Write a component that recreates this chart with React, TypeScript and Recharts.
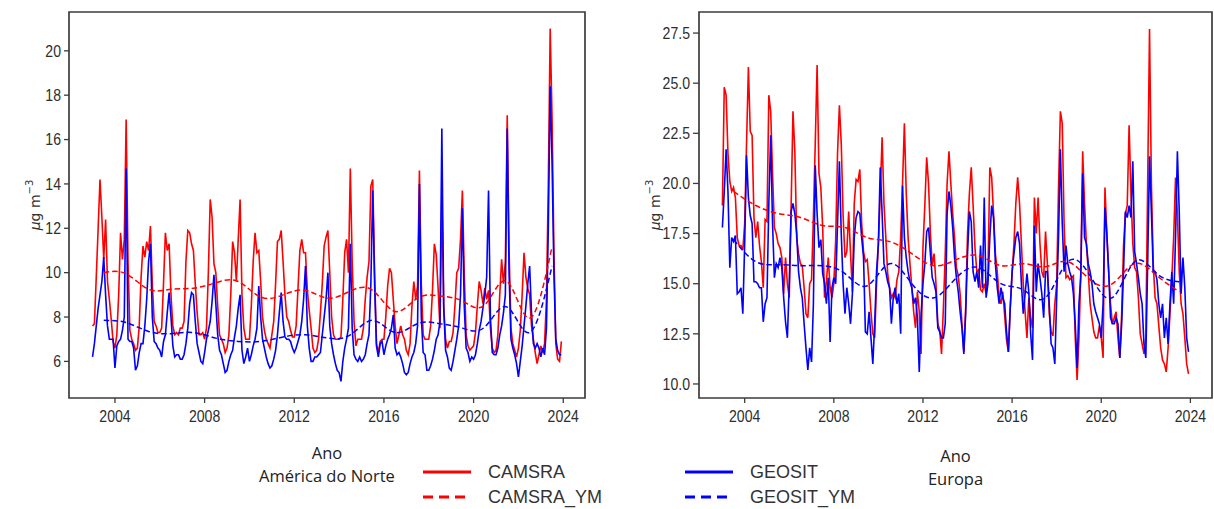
import { Line, LineChart, ReferenceArea, XAxis, YAxis } from "recharts";

const START_YEAR = 2003;
const X_DOMAIN: [number, number] = [2001.95, 2024.97];
const YEAR_TICKS = [2004, 2008, 2012, 2016, 2020, 2024];
const NA_TICKS = [6, 8, 10, 12, 14, 16, 18, 20];
const EU_TICKS = [10, 12.5, 15, 17.5, 20, 22.5, 25, 27.5];

// médias mensais, jan 2003 - dez 2023 (µg m-3)
const naCamsra = [
  7.6, 7.7, 9.8, 12.0, 14.2, 12.5, 10.6, 12.4, 9.6, 8.8, 7.9, 6.9,
  6.6, 7.2, 9.0, 11.8, 10.6, 11.5, 16.9, 10.5, 7.4, 7.0, 6.8, 6.5,
  6.6, 7.6, 9.8, 11.2, 10.7, 11.4, 11.0, 12.1, 9.5, 7.8, 7.6, 7.3,
  7.3, 7.5, 9.5, 11.8, 11.0, 11.3, 9.0, 7.6, 7.2, 7.3, 7.2, 7.5,
  7.5, 7.8, 10.5, 11.9, 11.8, 11.3, 11.0, 9.5, 8.2, 7.2, 7.2, 7.3,
  7.0, 7.5, 10.0, 13.3, 12.5, 10.4, 10.0, 8.5, 7.2, 7.0, 6.8, 6.4,
  6.6, 7.2, 9.0, 11.4, 10.9, 9.6, 11.5, 13.3, 9.0, 7.5, 7.0, 7.0,
  7.0, 8.5, 10.5, 11.8, 10.9, 11.0, 9.6, 8.0, 7.4, 7.0, 6.8, 6.6,
  7.2, 7.8, 9.5, 11.4, 11.5, 11.9, 10.5, 9.0, 8.0, 7.8, 7.4, 7.1,
  7.1, 7.6, 9.3, 11.0, 11.5, 10.9, 10.9, 9.2, 8.3, 7.5, 6.6, 6.4,
  6.5, 7.0, 8.2, 9.5, 11.2, 11.6, 11.9, 10.0, 8.0, 7.2, 7.0, 7.0,
  7.0, 7.1, 8.8, 10.9, 11.5, 10.0, 14.7, 10.5, 7.8, 6.7, 7.0, 7.0,
  7.0, 7.5, 8.8, 9.8, 10.5, 13.9, 14.2, 10.0, 6.8, 6.4, 6.9, 7.0,
  7.0, 8.0, 9.4, 10.2, 10.0, 8.8, 7.6, 6.8, 7.2, 7.6, 7.2, 7.0,
  6.5, 6.3, 6.8, 8.5, 9.6, 8.8, 9.4, 14.6, 9.5, 7.2, 7.0, 7.0,
  7.0, 7.6, 9.2, 11.3, 10.8, 9.3, 7.5, 13.5, 8.5, 7.0, 6.6, 6.9,
  6.9, 7.3, 8.5, 10.0, 10.2, 11.5, 13.7, 10.0, 7.2, 6.7, 6.5, 6.6,
  6.7, 7.3, 8.5, 9.6, 9.2, 8.6, 9.3, 8.8, 9.2, 7.5, 6.6, 6.4,
  6.5, 7.2, 9.0, 10.6, 9.5, 10.5, 17.1, 11.0, 7.5, 6.8, 6.5, 6.2,
  6.6, 7.4, 9.0, 10.9, 9.8, 9.3, 9.0, 7.6, 7.0, 6.4, 5.9, 6.3,
  6.7, 6.4, 6.8, 8.8, 14.0, 21.0, 17.0, 11.0, 6.8, 6.1, 6.0, 6.9,
];

const naGeosit = [
  6.2, 6.8, 7.6, 8.4, 9.0, 9.6, 10.7, 9.0, 7.6, 7.0, 7.0, 7.0,
  5.7, 6.7, 6.9, 7.0, 7.4, 8.0, 14.7, 7.0, 6.9, 6.9, 6.6, 5.6,
  5.8, 6.4, 6.8, 6.8, 7.6, 8.8, 10.5, 11.3, 8.0, 6.9, 6.8, 6.6,
  6.5, 6.2, 6.9, 7.2, 8.2, 9.1, 8.0, 6.7, 6.2, 6.3, 6.3, 6.1,
  6.1, 6.3, 6.8, 7.5, 8.6, 9.1, 9.0, 7.8, 6.8, 6.4, 6.0, 5.9,
  6.4, 7.0, 7.4, 7.8, 8.7, 9.9, 8.6, 7.2, 6.5, 6.3, 5.9, 5.5,
  5.6, 6.0, 6.3, 6.5, 7.1, 7.6, 8.4, 9.0, 6.5, 5.9, 6.2, 6.6,
  6.0, 6.3, 6.7, 7.0, 7.5, 9.4, 8.0, 7.0, 6.6, 6.2, 5.9, 5.7,
  5.8, 6.1, 6.5, 7.2, 8.2, 9.1, 7.8, 7.1, 7.0, 7.0, 6.9, 6.6,
  6.4, 6.6, 6.9, 7.2, 7.8, 8.8, 10.3, 7.6, 6.6, 6.0, 6.0, 6.2,
  6.2, 6.3, 6.4, 7.2, 8.0, 8.8, 10.0, 7.6, 6.8, 6.3, 5.9, 5.6,
  5.5, 5.1, 6.0, 6.6, 7.0, 7.5, 11.3, 7.5, 6.3, 6.1, 6.0, 6.2,
  6.0, 6.1, 6.3, 6.8, 7.2, 9.5, 13.7, 9.5, 6.7, 6.2, 6.8, 6.9,
  6.3, 6.7, 7.0, 7.2, 7.5, 8.1, 6.6, 6.3, 6.4, 6.2, 5.9, 5.5,
  5.4, 5.5, 5.9, 6.2, 6.4, 6.8, 7.6, 14.0, 8.0, 6.4, 6.3, 5.6,
  5.6, 5.8, 6.1, 6.5, 7.0, 7.2, 7.8, 16.5, 8.4, 6.5, 6.2, 5.7,
  5.6, 6.0, 6.5, 7.0, 7.6, 9.0, 12.9, 8.5, 6.6, 6.4, 6.0, 6.2,
  6.1, 6.3, 6.8, 7.4, 7.8, 8.4, 9.0, 9.8, 13.7, 8.0, 6.4, 6.3,
  6.3, 6.6, 7.2, 7.6, 8.2, 9.0, 16.5, 10.0, 7.0, 6.6, 6.3, 5.9,
  5.3, 6.0, 6.7, 7.6, 8.5, 9.5, 10.3, 8.2, 6.8, 6.6, 6.8, 6.6,
  6.2, 6.6, 6.3, 7.5, 12.0, 18.4, 15.0, 10.0, 7.0, 6.5, 6.3, 6.3,
];

const euCamsra = [
  18.9, 24.8, 24.4, 21.5, 20.1, 19.6, 19.8, 19.3, 17.3, 16.9, 16.9, 16.7,
  18.0, 22.0, 25.8, 22.6, 22.4, 18.3, 17.3, 18.1, 16.9, 16.1, 14.8, 18.2,
  18.1, 24.4, 23.6, 20.5, 17.8, 17.5, 17.0, 16.8, 16.3, 14.5, 16.3, 15.0,
  14.3, 18.8, 23.6, 21.6, 17.3, 16.5, 16.0, 15.9, 14.8, 13.5, 13.3, 15.0,
  15.2, 18.3, 22.0, 25.9, 20.5, 19.8, 17.8, 14.3, 15.1, 16.3, 14.8, 14.3,
  15.0, 17.2, 21.5, 23.9, 22.0, 18.4, 16.3, 16.6, 18.6, 16.5, 14.6, 19.0,
  20.2, 20.1, 20.7, 18.0, 16.6, 16.1, 16.2, 15.0, 13.6, 12.5, 12.3, 15.0,
  17.0, 19.5, 22.3, 19.0, 17.3, 15.5, 14.8, 14.3, 14.5, 14.3, 15.2, 15.6,
  17.3, 20.0, 23.0, 19.5, 17.3, 16.0, 14.8, 13.6, 12.8, 14.6, 13.6, 11.5,
  16.8, 18.9, 21.3, 20.0, 17.5, 15.9, 16.5, 15.0, 13.0, 12.7, 11.5, 13.8,
  16.5, 20.0, 21.6, 20.0, 18.5, 17.3, 15.8, 15.4, 14.5, 13.0, 11.6, 13.8,
  17.5, 19.5, 20.8, 18.9, 16.8, 15.6, 15.7, 14.7, 14.6, 15.0, 14.5, 15.5,
  20.8, 20.3, 18.5, 16.5, 15.6, 14.3, 14.0, 14.6, 13.4, 12.2, 11.6, 13.8,
  15.5, 17.0, 19.0, 20.3, 19.0, 17.0, 15.0, 13.6, 12.3, 14.3, 13.3, 12.8,
  19.3, 17.5, 19.3, 17.0, 15.6, 15.3, 17.6, 16.0, 13.5, 12.6, 12.4, 14.0,
  15.0, 19.8, 23.6, 23.0, 18.0, 15.3, 15.4, 15.2, 15.3, 15.4, 12.3, 10.2,
  12.3, 15.6, 21.6, 19.0, 17.0, 15.6, 14.0, 13.3, 12.6, 12.3, 12.3, 12.9,
  12.3, 11.3, 19.8, 17.5, 15.6, 14.0, 13.0, 13.3, 13.6, 12.3, 11.3, 13.5,
  16.9, 18.5, 18.9, 22.9, 19.5, 17.0, 15.8, 15.6, 14.3, 12.5, 12.0, 11.5,
  12.3, 20.0, 27.7, 20.0, 16.0, 14.3, 14.0, 12.9, 11.8, 11.2, 11.0, 10.6,
  11.8, 13.5, 15.3, 17.3, 20.3, 18.5, 15.6, 14.0, 13.5, 12.3, 11.0, 10.5,
];

const euGeosit = [
  17.8, 19.6, 21.7, 19.6, 15.8, 17.3, 17.1, 17.4, 14.5, 14.6, 14.8, 13.5,
  17.0, 21.4, 19.3, 18.4, 18.0, 15.1, 15.1, 15.0, 14.8, 14.8, 13.1, 14.0,
  14.3, 19.0, 22.4, 18.0, 15.3, 16.0, 15.8, 16.3, 15.8, 14.3, 13.1, 12.3,
  15.0, 18.6, 19.0, 18.5, 17.5, 15.6, 14.8, 14.3, 13.0, 11.8, 10.7, 11.8,
  11.1, 14.0, 20.9, 18.5, 16.8, 17.2, 15.5, 15.0, 14.0, 15.3, 12.1, 14.8,
  15.3, 15.0, 18.0, 21.1, 17.5, 15.0, 13.5, 14.8, 14.0, 13.0, 14.5, 17.3,
  18.3, 18.6, 18.5, 17.3, 16.3, 12.6, 12.5, 13.6, 12.3, 11.0, 13.0, 15.6,
  17.0, 20.8, 18.5, 16.0, 15.6, 15.1, 14.8, 13.0, 14.3, 14.8, 14.0, 14.5,
  12.5, 19.9, 17.3, 16.3, 15.6, 15.1, 14.8, 14.0, 14.3, 13.3, 10.6, 13.5,
  15.0, 16.0, 17.6, 17.8, 16.5, 15.3, 15.0, 14.6, 12.8, 12.6, 12.3, 12.3,
  13.0, 18.5, 19.6, 18.9, 17.8, 16.3, 15.3, 14.6, 13.6, 12.8, 11.5, 13.5,
  16.5, 18.6, 18.1, 15.6, 15.1, 15.6, 14.8, 16.9, 14.8, 19.3, 14.3, 15.0,
  17.3, 18.9, 18.3, 16.0, 14.8, 14.0, 14.8, 14.3, 14.0, 12.6, 11.6, 13.8,
  15.6, 16.5, 17.3, 17.6, 17.0, 15.0, 13.5, 14.5, 15.5, 14.6, 12.5, 11.2,
  17.9, 14.6, 16.0, 15.3, 14.5, 13.3, 15.6, 15.6, 14.0, 12.0, 11.8, 11.0,
  14.3, 17.3, 21.7, 18.0, 15.6, 16.9, 16.0, 15.6, 15.3, 14.5, 13.0, 10.8,
  14.0, 15.4, 20.5, 17.3, 17.0, 16.0, 15.6, 15.0, 14.0, 13.6, 13.3, 13.0,
  12.3, 14.0, 18.8, 17.5, 15.6, 13.3, 13.0, 13.0, 13.3, 13.0, 11.3, 13.0,
  15.6, 18.6, 18.3, 18.9, 18.3, 21.1, 16.6, 16.0, 15.3, 14.5, 14.0, 12.0,
  11.3, 16.0, 21.35, 18.6, 15.6, 15.6, 15.2, 14.0, 13.3, 14.0, 12.3, 13.3,
  12.0, 14.0, 15.6, 14.0, 17.3, 21.6, 18.6, 14.5, 16.3, 14.8, 12.3, 11.6,
];

// médias anuais (YM), plotadas no meio de cada ano 2003..2023
const naCamsraYm = [10.0, 9.95, 9.25, 9.25, 9.3, 9.55, 9.6, 8.9, 9.0, 9.2, 8.85, 9.17, 9.2, 8.25, 8.85, 8.95, 8.72, 8.55, 9.6, 7.95, 11.17];
const naGeositYm = [7.85, 7.75, 7.35, 7.25, 7.3, 7.05, 6.9, 6.9, 7.1, 7.2, 7.05, 7.2, 7.85, 7.3, 7.7, 7.7, 7.5, 7.55, 8.45, 7.3, 10.3];
const euCamsraYm = [19.6, 18.9, 18.5, 18.3, 17.9, 17.8, 17.3, 17.1, 16.5, 15.9, 16.2, 16.4, 15.9, 16.0, 15.85, 16.1, 15.2, 15.0, 16.0, 15.4, 14.6];
const euGeositYm = [17.2, 16.1, 15.95, 15.9, 15.9, 15.5, 14.9, 16.0, 15.0, 14.3, 15.3, 15.8, 15.0, 14.7, 14.3, 16.1, 15.4, 14.3, 16.1, 15.5, 15.1];

const RED = "#ff0000";
const BLUE = "#0000ff";
const FRAME = "#3c3c3c";
const TICK_FONT = "'Liberation Sans Narrow', 'Liberation Sans', Arial, sans-serif";
const LABEL_FONT = "'Open Sans', 'Noto Sans', sans-serif";
const LEGEND_FONT = "'Liberation Sans', Arial, sans-serif";

function monthlyRows(camsra: number[], geosit: number[]) {
  return camsra.map((v, i) => ({ t: START_YEAR + i / 12, camsra: v, geosit: geosit[i] }));
}

function yearlyRows(camsra: number[], geosit: number[]) {
  return camsra.map((v, i) => ({ t: START_YEAR + 0.5 + i, camsra: v, geosit: geosit[i] }));
}

// rótulos estreitos, como no original
function NarrowTick(props: any) {
  const { x, y, payload, textAnchor, fmt, vertical } = props;
  return (
    <g transform={`translate(${x},${y})`}>
      <text transform="scale(0.88,1)" textAnchor={textAnchor} dy={vertical ? "0.36em" : "0.71em"}
        fontFamily={TICK_FONT} fontSize={16} fill="#2e2e2e">
        {fmt ? fmt(payload.value) : payload.value}
      </text>
    </g>
  );
}

function UnitLabel({ x }: { x: number }) {
  return (
    <text x={x} y={205} transform={`rotate(-90 ${x} 205)`} textAnchor="middle" dominantBaseline="central"
      fontFamily="'DejaVu Sans', sans-serif" fontSize={14} fill="#333">
      <tspan fontStyle="italic">μ</tspan>g m<tspan dy={-6} fontSize={10}>−3</tspan>
    </text>
  );
}

function AxisTitle({ x, y1, y2, region }: { x: number; y1: number; y2: number; region: string }) {
  return (
    <g fontFamily={LABEL_FONT} fontSize={16.5} fill="#222" textAnchor="middle">
      <text x={x} y={y1} dominantBaseline="central">Ano</text>
      <text x={x} y={y2} dominantBaseline="central">{region}</text>
    </g>
  );
}

interface PanelProps {
  left: number;
  width: number;
  yWidth: number;
  right: number;
  tickSize: number;
  camsra: number[];
  geosit: number[];
  camsraYm: number[];
  geositYm: number[];
  yDomain: [number, number];
  yTicks: number[];
  fmt: (v: number) => string;
  title: { x: number; y1: number; y2: number; region: string };
  unitX: number;
}

function Panel(p: PanelProps) {
  const rows = monthlyRows(p.camsra, p.geosit);
  const ym = yearlyRows(p.camsraYm, p.geositYm);
  return (
    <div style={{ position: "absolute", left: p.left, top: 0 }}>
      <LineChart width={p.width} height={509} margin={{ top: 12, right: p.right, left: 0, bottom: 81 }}>
        <XAxis
          dataKey="t"
          type="number"
          domain={X_DOMAIN}
          ticks={YEAR_TICKS}
          allowDataOverflow
          axisLine={false}
          tickLine={{ stroke: FRAME, strokeWidth: 1.3 }}
          tickSize={5}
          tickMargin={8}
          tick={<NarrowTick />}
          height={30}
          label={<AxisTitle {...p.title} />}
        />
        <YAxis
          type="number"
          domain={p.yDomain}
          ticks={p.yTicks}
          allowDataOverflow
          width={p.yWidth}
          axisLine={false}
          tickLine={{ stroke: FRAME, strokeWidth: 1.3 }}
          tickSize={p.tickSize}
          tickMargin={3}
          tick={<NarrowTick fmt={p.fmt} vertical />}
          label={<UnitLabel x={p.unitX} />}
        />
        <Line data={rows} dataKey="camsra" type="linear" stroke={RED} strokeWidth={1.6} dot={false} isAnimationActive={false} />
        <Line data={rows} dataKey="geosit" type="linear" stroke={BLUE} strokeWidth={1.6} dot={false} isAnimationActive={false} />
        <Line data={ym} dataKey="camsra" type="natural" stroke={RED} strokeWidth={1.5} strokeDasharray="5.5 3" dot={false} isAnimationActive={false} />
        <Line data={ym} dataKey="geosit" type="natural" stroke={BLUE} strokeWidth={1.5} strokeDasharray="5.5 3" dot={false} isAnimationActive={false} />
        <ReferenceArea x1={X_DOMAIN[0]} x2={X_DOMAIN[1]} y1={p.yDomain[0]} y2={p.yDomain[1]}
          fill="none" fillOpacity={0} stroke={FRAME} strokeWidth={1.7} ifOverflow="visible" />
      </LineChart>
    </div>
  );
}

function LegendBox() {
  const items = [
    { x: 423, y: 472, color: RED, dash: undefined, name: "CAMSRA" },
    { x: 423, y: 497, color: RED, dash: "10 6", name: "CAMSRA_YM" },
    { x: 685, y: 472, color: BLUE, dash: undefined, name: "GEOSIT" },
    { x: 685, y: 497, color: BLUE, dash: "10 6", name: "GEOSIT_YM" },
  ];
  return (
    <svg width={1214} height={509} style={{ position: "absolute", left: 0, top: 0, pointerEvents: "none" }}>
      {items.map((it) => (
        <g key={it.name}>
          <line x1={it.x} x2={it.x + 48} y1={it.y} y2={it.y} stroke={it.color} strokeWidth={3} strokeDasharray={it.dash} />
          <text x={it.x + 65} y={it.y} dominantBaseline="central" fontFamily={LEGEND_FONT} fontSize={18} fill="#333">
            {it.name}
          </text>
        </g>
      ))}
    </svg>
  );
}

export default function App() {
  return (
    <div style={{ position: "absolute", left: 0, top: 0, width: 1214, height: 509, background: "#fff", overflow: "hidden" }}>
      <Panel
        left={0}
        width={600}
        yWidth={69}
        right={15}
        tickSize={5}
        camsra={naCamsra}
        geosit={naGeosit}
        camsraYm={naCamsraYm}
        geositYm={naGeositYm}
        yDomain={[4.35, 21.75]}
        yTicks={NA_TICKS}
        fmt={(v) => String(v)}
        title={{ x: 325, y1: 452, y2: 475, region: "América do Norte" }}
        unitX={21}
      />
      <Panel
        left={610}
        width={604}
        yWidth={89}
        right={2}
        tickSize={6}
        camsra={euCamsra}
        geosit={euGeosit}
        camsraYm={euCamsraYm}
        geositYm={euGeositYm}
        yDomain={[9.3, 28.55]}
        yTicks={EU_TICKS}
        fmt={(v) => v.toFixed(1)}
        title={{ x: 363, y1: 455, y2: 478, region: "Europa" }}
        unitX={30}
      />
      <LegendBox />
    </div>
  );
}
